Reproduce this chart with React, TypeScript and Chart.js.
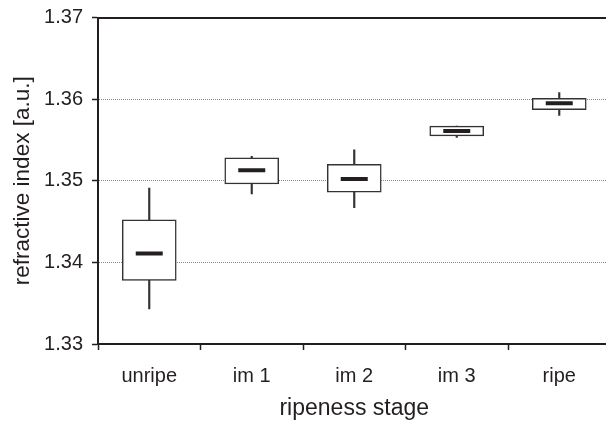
import React, { useEffect, useRef } from "react";
import { Chart, registerables } from "chart.js";

Chart.register(...registerables);

const categories = ["unripe", "im 1", "im 2", "im 3", "ripe"];
const mins = [1.3343, 1.3484, 1.3467, 1.3553, 1.3580];
const q1s = [1.3378, 1.3496, 1.3486, 1.3555, 1.3587];
const medians = [1.3411, 1.3513, 1.3502, 1.3561, 1.3595];
const q3s = [1.3452, 1.3528, 1.3520, 1.3567, 1.3601];
const maxs = [1.3491, 1.3530, 1.3538, 1.3567, 1.3608];
const yTicks = [1.33, 1.34, 1.35, 1.36, 1.37];

const INK = "#231f20";
const FONT = "'Liberation Sans', Arial, Helvetica, sans-serif";

export default function App() {
  const ref = useRef<HTMLCanvasElement | null>(null);
  useEffect(() => {
    if (!ref.current) return;
    const chart = new Chart(ref.current, {
      type: "bar",
      data: {
        labels: categories,
        datasets: [
          {
            type: "line",
            label: "median",
            data: medians,
            showLine: false,
            pointStyle: "line",
            pointRadius: 13.5,
            pointBorderWidth: 4,
            pointBorderColor: INK,
            borderColor: INK,
            order: 0,
          } as any,
          {
            label: "box",
            data: categories.map((_, i) => [q1s[i], q3s[i]]),
            backgroundColor: "#ffffff",
            borderColor: "#333333",
            borderWidth: 1.5,
            borderSkipped: false,
            barThickness: 54,
            grouped: false,
            order: 1,
          } as any,
          {
            label: "whisker",
            data: categories.map((_, i) => [mins[i], maxs[i]]),
            backgroundColor: "#333333",
            borderWidth: 0,
            barThickness: 1.5,
            grouped: false,
            order: 2,
          } as any,
        ],
      },
      options: {
        responsive: true,
        maintainAspectRatio: false,
        animation: false,
        events: [],
        layout: { padding: { top: 17, right: 3, bottom: 1, left: 0 } },
        plugins: { legend: { display: false }, tooltip: { enabled: false } },
        scales: {
          x: {
            type: "category",
            position: "bottom",
            afterFit: (scale: any) => {
              scale.height = 78;
              scale.paddingLeft = 0;
              scale.paddingRight = 0;
            },
            grid: { offset: true, drawOnChartArea: false, tickLength: 6, tickColor: INK, tickWidth: 1.5 },
            border: { display: true, width: 2, color: INK },
            ticks: { color: INK, padding: 14, font: { family: FONT, size: 20 }, maxRotation: 0 },
            title: { display: true, text: "ripeness stage", color: INK, font: { family: FONT, size: 23 }, padding: 0 },
          },
          x2: {
            type: "category",
            position: "top",
            labels: categories,
            offset: true,
            afterFit: (scale: any) => {
              scale.height = 0;
              scale.paddingLeft = 0;
              scale.paddingRight = 0;
            },
            grid: { display: false, drawTicks: false, offset: true },
            ticks: { display: false },
            border: { display: true, width: 2, color: INK },
          },
          y: {
            min: yTicks[0],
            max: yTicks[yTicks.length - 1],
            afterBuildTicks: (scale: any) => {
              scale.ticks = yTicks.map((v) => ({ value: v }));
            },
            afterFit: (scale: any) => {
              scale.width = 98;
              scale.paddingTop = 0;
              scale.paddingBottom = 0;
            },
            grid: {
              color: (ctx: any) =>
                ctx.index === 0 || ctx.index === yTicks.length - 1 ? "rgba(0,0,0,0)" : "#8a8a8a",
              lineWidth: 1,
              tickLength: 6,
              tickColor: INK,
              tickWidth: 1.5,
            },
            border: { display: true, width: 2, color: INK, dash: [1, 1] },
            ticks: { color: INK, padding: 9, font: { family: FONT, size: 20 }, callback: (v: any) => Number(v).toFixed(2) },
            title: {
              display: true,
              text: "refractive index [a.u.]",
              color: INK,
              font: { family: FONT, size: 22.5 },
              padding: { top: 9.5, bottom: 0 },
            },
          },
        },
      },
    });
    return () => chart.destroy();
  }, []);
  return (
    <div style={{ position: "fixed", left: 0, top: 0, width: 606, height: 423, overflow: "hidden", background: "#fff" }}>
      <div style={{ position: "relative", width: 628, height: 423 }}>
        <canvas ref={ref} style={{ display: "block" }} />
      </div>
    </div>
  );
}
